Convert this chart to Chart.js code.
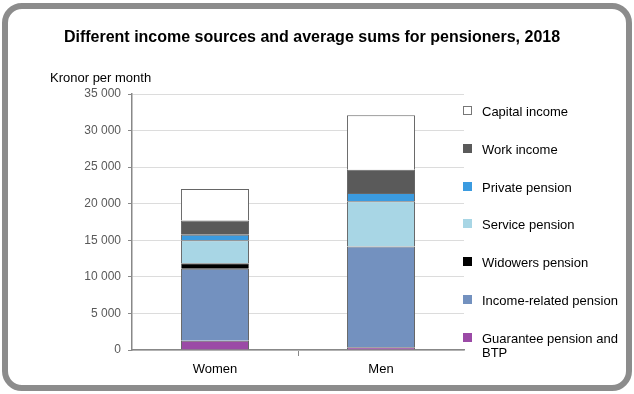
<!DOCTYPE html>
<html>
<head>
<meta charset="utf-8">
<script src="https://cdn.jsdelivr.net/npm/chart.js@4"></script>
<style>
  body { margin: 0; width: 634px; height: 394px; background: #fff; position: relative; overflow: hidden; font-family: "Liberation Sans", Arial, sans-serif; }
  #frame { position: absolute; left: 2px; top: 3px; width: 618px; height: 376px; border: 6px solid #8c8c8c; border-radius: 20px; }
  #chart { position: absolute; left: 0; top: 0; }
  #title { position: absolute; left: 0; width: 624px; top: 28px; text-align: center; font-weight: bold; font-size: 16px; color: #000; }
  #unit { position: absolute; left: 50px; top: 70px; font-size: 13px; color: #000; }
  .item { position: absolute; left: 463px; font-size: 13px; color: #000; line-height: 14px; }
  .item .sw { position: absolute; left: 0; top: 1px; width: 9px; height: 9px; box-sizing: border-box; }
  .item .tx { position: absolute; left: 19px; top: 0; width: 146px; }
</style>
</head>
<body>
<div id="frame"></div>
<canvas id="chart" width="634" height="394"></canvas>
<div id="title">Different income sources and average sums for pensioners, 2018</div>
<div id="unit">Kronor per month</div>
<div id="legend"></div>
<script>
const categories = ["Women", "Men"];
const guarantee = [1270, 380];
const incomeRelated = [9830, 13770];
const widowers = [760, 0];
const service = [3140, 6200];
const privatePension = [750, 1100];
const work = [1950, 3200];
const capital = [4300, 7450];

const seriesNames = ["Guarantee pension and BTP", "Income-related pension", "Widowers pension",
  "Service pension", "Private pension", "Work income", "Capital income"];
const seriesValues = [guarantee, incomeRelated, widowers, service, privatePension, work, capital];
const seriesColors = ["#9b4aa6", "#7391bf", "#000000", "#a8d6e5", "#3b9be0", "#5a5a5a", "#ffffff"];

const datasets = seriesNames.map((name, i) => ({
  label: name,
  data: seriesValues[i],
  backgroundColor: seriesColors[i],
  borderColor: "#666",
  borderWidth: 1,
  barPercentage: 0.41,
  categoryPercentage: 1.0
}));

Chart.defaults.font.family = '"Liberation Sans", Arial, sans-serif';

new Chart(document.getElementById("chart"), {
  type: "bar",
  data: { labels: categories, datasets },
  options: {
    responsive: false,
    animation: false,
    layout: { padding: { top: 94, right: 170, bottom: 0, left: 0 } },
    plugins: { legend: { display: false }, tooltip: { enabled: false } },
    scales: {
      x: {
        stacked: true,
        offset: true,
        grid: {
          drawOnChartArea: false,
          tickLength: 6,
          color: ctx => ctx.index === 1 ? "#888" : "rgba(0,0,0,0)"
        },
        border: { color: "#888", width: 1.5 },
        ticks: { color: "#000", font: { size: 13 }, padding: 6 },
        afterFit: s => { s.height = 44; }
      },
      y: {
        stacked: true,
        min: 0,
        max: 35000,
        ticks: {
          stepSize: 5000,
          color: "#595959",
          font: { size: 12 },
          padding: 7,
          callback: v => String(v).replace(/\B(?=(\d{3})+(?!\d))/g, " ")
        },
        grid: { color: "#dcdcdc", tickLength: 4, tickColor: "#888" },
        border: { color: "#888", width: 1.5 },
        afterFit: s => { s.width = 132; }
      }
    }
  }
});

// legend, top to bottom in reverse stacking order
const legend = document.getElementById("legend");
const order = [6, 5, 4, 3, 2, 1, 0];
order.forEach((idx, row) => {
  const el = document.createElement("div");
  el.className = "item";
  el.style.top = (105 + row * 37.8) + "px";
  const border = idx === 6 ? "1px solid #777" : "none";
  el.innerHTML = `<div class="sw" style="background:${seriesColors[idx]};border:${border}"></div>` +
    `<div class="tx">${seriesNames[idx]}</div>`;
  legend.appendChild(el);
});
</script>
</body>
</html>
